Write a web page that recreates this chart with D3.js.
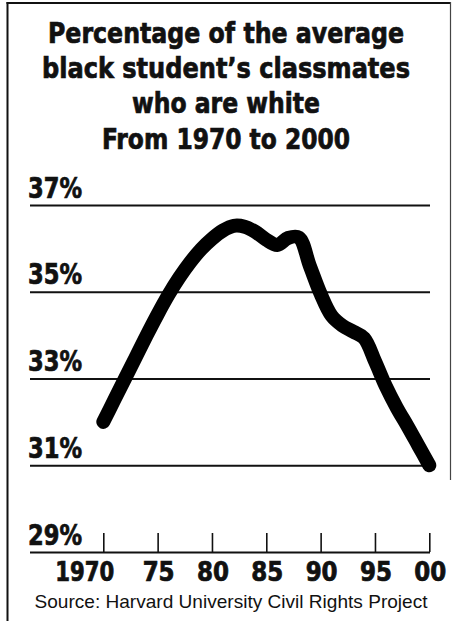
<!DOCTYPE html>
<html>
<head>
<meta charset="utf-8">
<script src="https://cdn.jsdelivr.net/npm/d3@7/dist/d3.min.js"></script>
<style>
  html, body { margin: 0; padding: 0; background: #fff; }
  svg { display: block; }
</style>
</head>
<body>
<svg id="chart" width="452" height="621"></svg>
<script>
// ---- Data ----
const titleLines = [
  "Percentage of the average",
  "black student\u2019s classmates",
  "who are white",
  "From 1970 to 2000"
];
const years = [1970, 1971, 1972, 1973, 1974, 1975, 1976, 1977, 1978, 1979,
               1980, 1981, 1982, 1983, 1984, 1985, 1986, 1987, 1988, 1989,
               1990, 1991, 1992, 1993, 1994, 1995, 1996, 1997, 1998, 1999, 2000];
const values = [32.0, 32.5, 33.0, 33.5, 34.0, 34.48, 34.93, 35.33, 35.68, 35.98,
                36.22, 36.41, 36.52, 36.5, 36.38, 36.2, 36.08, 36.24, 36.25, 35.6,
                34.95, 34.45, 34.22, 34.08, 33.93, 33.4, 32.82, 32.33, 31.9, 31.45, 31.0];
const yTicks = [29, 31, 33, 35, 37];
const xTicks = [1970, 1975, 1980, 1985, 1990, 1995, 2000];
const xTickLabels = ["1970", "75", "80", "85", "90", "95", "00"];
const sourceText = "Source: Harvard University Civil Rights Project";

// ---- Layout ----
const svg = d3.select("#chart");
const condensed = "'Liberation Sans Narrow', 'Arial Narrow', 'DejaVu Sans Condensed', sans-serif";
const ink = "#111";

const x = d3.scaleLinear().domain([1970, 2000]).range([103.3, 429.3]);
const y = d3.scaleLinear().domain([29, 37]).range([552, 205]);

// Frame
svg.append("line").attr("x1", 7.5).attr("x2", 7.5).attr("y1", 2).attr("y2", 621)
  .attr("stroke", ink).attr("stroke-width", 2);
svg.append("line").attr("x1", 6.5).attr("x2", 451).attr("y1", 3).attr("y2", 3)
  .attr("stroke", ink).attr("stroke-width", 2);
svg.append("line").attr("x1", 450.5).attr("x2", 450.5).attr("y1", 2).attr("y2", 480)
  .attr("stroke", "#444").attr("stroke-width", 1.2);

// Title
const titleBaselines = [43, 78, 113, 149];
const titleWidths = [356, 368, 188, 248];
titleLines.forEach((t, i) => {
  svg.append("text")
    .attr("x", 226).attr("y", titleBaselines[i])
    .attr("text-anchor", "middle")
    .attr("font-family", condensed)
    .attr("font-weight", "bold")
    .attr("font-size", 29)
    .attr("fill", ink)
    .attr("stroke", ink)
    .attr("stroke-width", 0.7)
    .attr("textLength", titleWidths[i])
    .attr("lengthAdjust", "spacingAndGlyphs")
    .text(t);
});

// Gridlines
const gy = svg.append("g").attr("transform", "translate(430,0)").call(
  d3.axisRight(y).tickValues(yTicks).tickSize(-400).tickFormat("")
);
gy.select(".domain").remove();
gy.selectAll(".tick line").attr("stroke", ink).attr("stroke-width", 2);

// Y labels
svg.append("g").selectAll("text")
  .data(yTicks)
  .join("text")
  .attr("x", 28)
  .attr("y", d => y(d) - 7.5)
  .attr("font-family", condensed)
  .attr("font-weight", "bold")
  .attr("font-size", 28)
  .attr("fill", ink)
  .attr("stroke", ink)
  .attr("stroke-width", 0.7)
  .attr("textLength", 54)
  .attr("lengthAdjust", "spacingAndGlyphs")
  .text(d => d + "%");

// X ticks
const gx = svg.append("g").attr("transform", `translate(0,${y(29)})`).call(
  d3.axisTop(x).tickValues(xTicks).tickSize(19).tickFormat("")
);
gx.select(".domain").remove();
gx.selectAll(".tick line").attr("stroke", ink).attr("stroke-width", 1.6);

// X labels
svg.append("g").selectAll("text")
  .data(xTicks)
  .join("text")
  .attr("x", (d, i) => i === 0 ? x(d) + 11 : x(d) + 1)
  .attr("y", 581)
  .attr("text-anchor", (d, i) => i === 0 ? "end" : "middle")
  .attr("font-family", condensed)
  .attr("font-weight", "bold")
  .attr("font-size", 26)
  .attr("fill", ink)
  .attr("stroke", ink)
  .attr("stroke-width", 0.7)
  .attr("textLength", (d, i) => i === 0 ? 59 : 32)
  .attr("lengthAdjust", "spacingAndGlyphs")
  .text((d, i) => xTickLabels[i]);

// Data line
const pts = years.map((yr, i) => [yr, values[i]]);
const line = d3.line()
  .x(d => x(d[0]))
  .y(d => y(d[1]))
  .curve(d3.curveCatmullRom.alpha(0.5));
svg.append("path")
  .datum(pts)
  .attr("d", line)
  .attr("fill", "none")
  .attr("stroke", "#000")
  .attr("stroke-width", 14)
  .attr("stroke-linecap", "round")
  .attr("stroke-linejoin", "round");

// Source
svg.append("text")
  .attr("x", 231).attr("y", 608)
  .attr("text-anchor", "middle")
  .attr("font-family", "'Liberation Sans', Arial, Helvetica, sans-serif")
  .attr("font-size", 19)
  .attr("fill", ink)
  .attr("textLength", 393)
  .attr("lengthAdjust", "spacingAndGlyphs")
  .text(sourceText);
</script>
</body>
</html>
